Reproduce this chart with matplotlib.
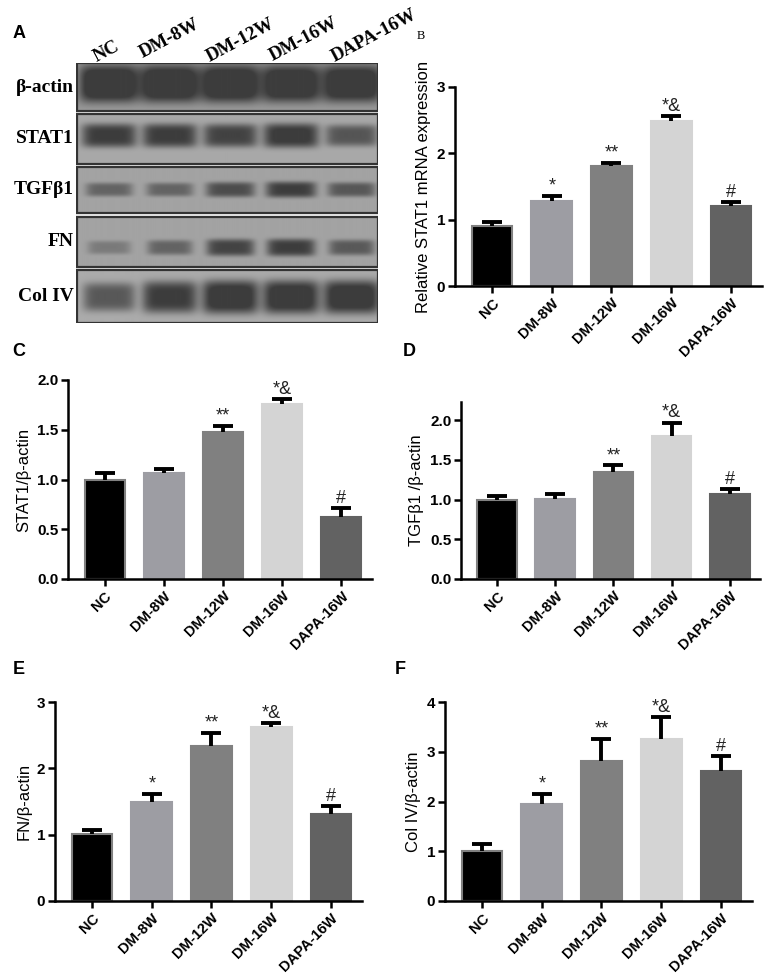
import numpy as np
import matplotlib
matplotlib.use("Agg")
import matplotlib.pyplot as plt
from matplotlib.patches import Rectangle

plt.rcParams['font.family'] = ['Liberation Sans', 'DejaVu Sans']

# ---------------- data ----------------
groups = ['NC', 'DM-8W', 'DM-12W', 'DM-16W', 'DAPA-16W']
bar_colors = ['#000000', '#9d9da3', '#808080', '#d4d4d4', '#626262']

b_mean = [0.90, 1.28, 1.81, 2.48, 1.21]
b_err = [0.06, 0.08, 0.05, 0.08, 0.05]
b_sig = ['', '*', '**', '*&', '#']

c_mean = [1.00, 1.07, 1.48, 1.76, 0.62]
c_err = [0.07, 0.04, 0.06, 0.05, 0.09]
c_sig = ['', '', '**', '*&', '#']

d_mean = [1.00, 1.01, 1.35, 1.80, 1.07]
d_err = [0.05, 0.06, 0.08, 0.17, 0.06]
d_sig = ['', '', '**', '*&', '#']

e_mean = [1.01, 1.50, 2.34, 2.62, 1.31]
e_err = [0.06, 0.11, 0.20, 0.06, 0.12]
e_sig = ['', '*', '**', '*&', '#']

f_mean = [1.01, 1.94, 2.81, 3.26, 2.62]
f_err = [0.13, 0.22, 0.45, 0.43, 0.29]
f_sig = ['', '*', '**', '*&', '#']

# western blot (panel A): relative band intensity per lane
blot_rows = ['β-actin', 'STAT1', 'TGFβ1', 'FN', 'Col IV']
band_actin = [0.95, 0.95, 0.95, 0.92, 0.92]
band_stat1 = [0.85, 0.85, 0.80, 0.90, 0.65]
band_tgfb1 = [0.50, 0.50, 0.68, 0.80, 0.60]
band_fn = [0.32, 0.50, 0.75, 0.80, 0.58]
band_col4 = [0.65, 0.88, 1.00, 1.00, 1.00]

W, H = 765, 973
fig = plt.figure(figsize=(W / 100, H / 100), dpi=100)


def ax_px(x0, y0, x1, y1):
    return fig.add_axes([x0 / W, 1 - y1 / H, (x1 - x0) / W, (y1 - y0) / H])


def bar_panel(ax, mean, err, sig, ylim, ticks, ylabel, fmt):
    x = np.arange(len(groups))
    edge = ['#808080'] + bar_colors[1:]
    ax.bar(x, mean, width=0.68, color=bar_colors, edgecolor=edge, linewidth=1.5, zorder=2)
    _, caps, _ = ax.errorbar(x, mean, yerr=[np.zeros(len(err)), err], fmt='none',
                             ecolor='black', elinewidth=2.8, capsize=7.5, capthick=2.8,
                             zorder=3)
    caps[0].set_visible(False)   # only upper caps as in the reference
    for xi, m, e, s in zip(x, mean, err, sig):
        if s:
            ax.annotate(s, (xi, m + e), xytext=(0, 1.0), textcoords='offset points',
                        ha='center', va='bottom', fontsize=13, color='#222222')
    ax.set_xlim(-0.62, 4.52)
    ax.set_ylim(*ylim)
    ax.set_yticks(ticks)
    ax.set_yticklabels([fmt.format(t) for t in ticks], fontsize=11, fontweight='bold')
    ax.set_xticks(x)
    ax.set_xticklabels(groups, rotation=45, ha='right', rotation_mode='anchor',
                       fontsize=10.5, fontweight='bold')
    ax.set_ylabel(ylabel, fontsize=12, labelpad=4)
    for s in ['top', 'right']:
        ax.spines[s].set_visible(False)
    for s in ['left', 'bottom']:
        ax.spines[s].set_linewidth(1.8)
    ax.tick_params(axis='both', width=1.8, length=5, pad=2)


# ---------------- panel A: blot ----------------
axA = ax_px(76, 63, 378, 323)
axA.set_xlim(76, 378)
axA.set_ylim(323, 63)
axA.axis('off')
axA.add_patch(Rectangle((76, 63), 302, 260, facecolor='#f4f4f4', edgecolor='none', zorder=0))

row_bounds = [(63, 111), (114, 164), (167, 213), (217, 267), (270, 323)]
row_bg = [0.60, 0.66, 0.64, 0.64, 0.67]
row_data = [band_actin, band_stat1, band_tgfb1, band_fn, band_col4]
row_yc = [0.42, 0.42, 0.48, 0.60, 0.50]     # band centre as fraction of row height
row_sy = [0.38, 0.24, 0.18, 0.18, 0.30]     # band half-thickness fraction
row_sx = [30, 28, 26, 25, 28]
lane_x = [32 + 61 * i for i in range(5)]

for (y0, y1), bg, data, yc, sy, sx, lab in zip(row_bounds, row_bg, row_data, row_yc,
                                                row_sy, row_sx, blot_rows):
    h = y1 - y0
    w = 302
    yy, xx = np.mgrid[0:h, 0:w]
    img = np.full((h, w), bg)
    for i, I in enumerate(data):
        xc = lane_x[i]
        swidth = sx * (0.8 + 0.22 * I)
        px = np.exp(-np.abs((xx - xc) / swidth) ** 6)
        py = np.exp(-np.abs((yy - yc * h) / (sy * h * (0.6 + 0.45 * I))) ** 4)
        img -= I * 0.5 * px * py
    img = np.clip(img, 0.24, 1)
    axA.imshow(img, cmap='gray', vmin=0, vmax=1, extent=(77, 377, y1, y0),
               interpolation='bilinear', aspect='auto', zorder=1)
    axA.add_patch(Rectangle((76.5, y0), 301, h, facecolor='none', edgecolor='#333333',
                            linewidth=1.6, zorder=2))
    fig.text(74 / W, 1 - ((y0 + y1) / 2) / H, lab, ha='right', va='center',
             fontsize=14, fontweight='bold', family='Liberation Serif')

lane_label_pos = [(97, 62), (143, 58), (210, 62), (273, 61), (335, 62)]
for (lx, ly), g in zip(lane_label_pos, groups):
    fig.text(lx / W, 1 - ly / H, g, ha='left', va='baseline', rotation=28,
             rotation_mode='anchor', fontsize=13.5, fontweight='bold',
             family='Liberation Serif')

# ---------------- bar panels ----------------
axB = ax_px(455, 87, 762, 286)
bar_panel(axB, b_mean, b_err, b_sig, (0, 3), [0, 1, 2, 3], 'Relative STAT1 mRNA expression', '{:.0f}')

axC = ax_px(68, 380, 372, 579)
bar_panel(axC, c_mean, c_err, c_sig, (0, 2.0), [0, 0.5, 1.0, 1.5, 2.0], 'STAT1/β-actin', '{:.1f}')

axD = ax_px(461, 402, 760, 579)
bar_panel(axD, d_mean, d_err, d_sig, (0, 2.23), [0, 0.5, 1.0, 1.5, 2.0], 'TGFβ1 /β-actin', '{:.1f}')

axE = ax_px(55, 702, 362, 901)
bar_panel(axE, e_mean, e_err, e_sig, (0, 3), [0, 1, 2, 3], 'FN/β-actin', '{:.0f}')

axF = ax_px(445, 702, 752, 901)
bar_panel(axF, f_mean, f_err, f_sig, (0, 4), [0, 1, 2, 3, 4], 'Col IV/β-actin', '{:.0f}')

# panel letters
for lab, (x, y) in {'A': (19, 34), 'C': (19, 352), 'D': (409, 352),
                    'E': (19, 669), 'F': (400, 669)}.items():
    fig.text(x / W, 1 - y / H, lab, ha='center', va='center', fontsize=13, fontweight='bold')
fig.text(421 / W, 1 - 36 / H, 'B', ha='center', va='center', fontsize=9,
         family='Liberation Serif')

fig.savefig('out.png', dpi=100)
